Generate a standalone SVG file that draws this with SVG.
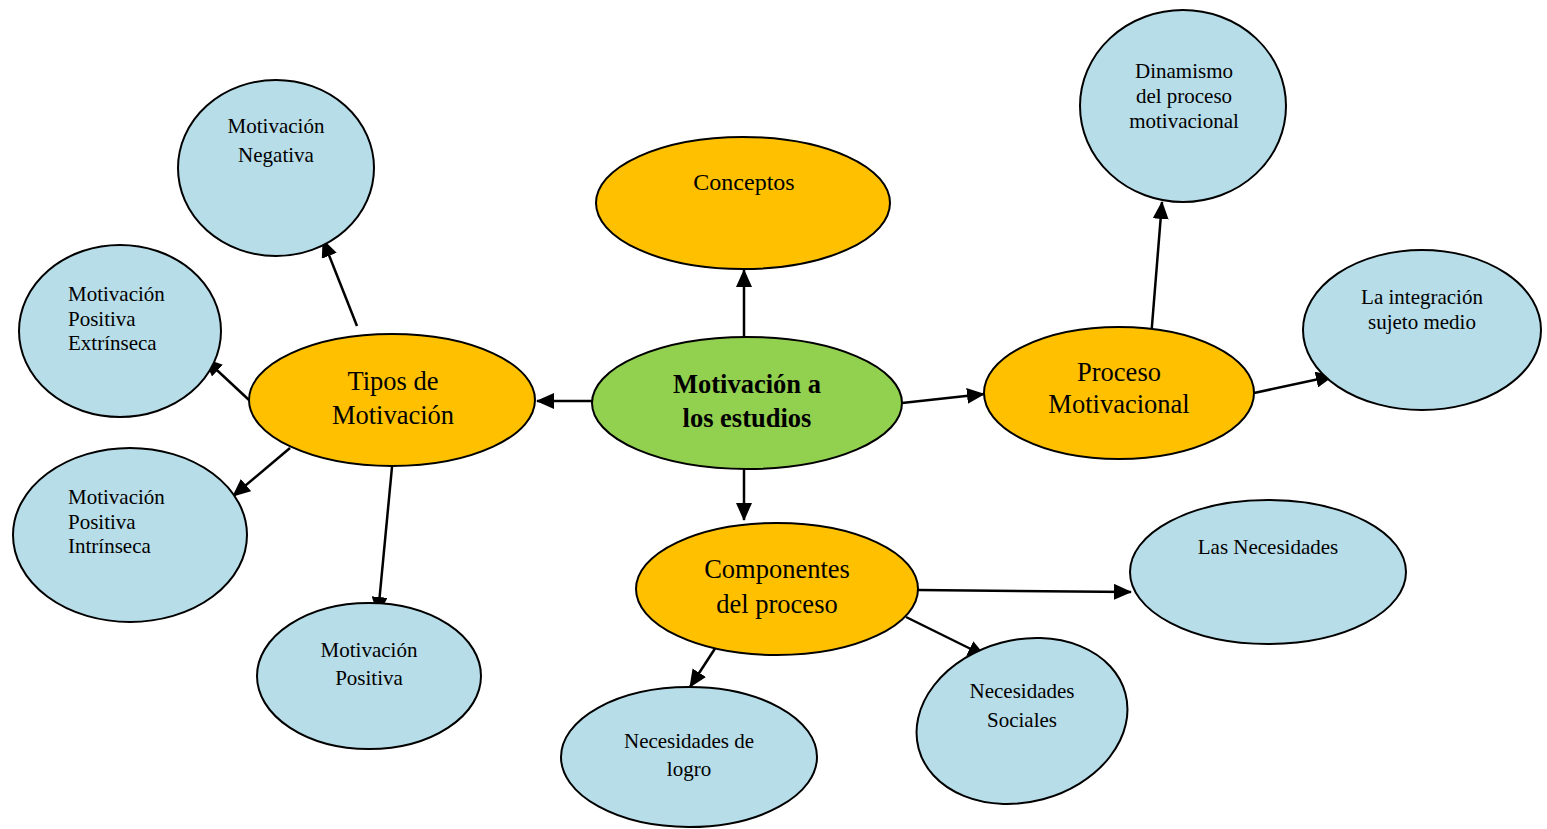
<svg xmlns="http://www.w3.org/2000/svg" width="1547" height="829" viewBox="0 0 1547 829">
<style>
.blue{fill:#B7DDE8;stroke:#000;stroke-width:2}
.orange{fill:#FFC000;stroke:#000;stroke-width:2}
.green{fill:#92D050;stroke:#000;stroke-width:2}
.t{font-family:"Liberation Serif","Times New Roman",serif;fill:#000}
.s{font-size:21px}
.m{font-size:26.5px}
.b{font-size:26.5px;font-weight:bold}
.c{text-anchor:middle}
.edge{stroke:#000;stroke-width:2.5;fill:none;marker-end:url(#ah)}
</style>
<defs>
<marker id="ah" markerUnits="userSpaceOnUse" markerWidth="18" markerHeight="16" refX="17" refY="8" orient="auto">
<path d="M0,0 L18,8 L0,16 Z" fill="#000"/>
</marker>
</defs>
<rect width="1547" height="829" fill="#fff"/>
<g id="connectors">
<line class="edge" x1="744" y1="337" x2="744" y2="270"/>
<line class="edge" x1="592" y1="401" x2="537" y2="401"/>
<line class="edge" x1="902" y1="403" x2="984" y2="394"/>
<line class="edge" x1="744" y1="469" x2="744" y2="520"/>
<line class="edge" x1="357" y1="326" x2="323" y2="240"/>
<line class="edge" x1="249" y1="400" x2="205" y2="359"/>
<line class="edge" x1="290" y1="448" x2="233" y2="496"/>
<line class="edge" x1="392" y1="467" x2="378" y2="614"/>
<line class="edge" x1="1151" y1="338" x2="1162" y2="202"/>
<line class="edge" x1="1254" y1="393" x2="1333" y2="376"/>
<line class="edge" x1="918" y1="590" x2="1131" y2="592"/>
<line class="edge" x1="906" y1="617" x2="985" y2="656"/>
<line class="edge" x1="716" y1="647" x2="690" y2="687"/>
</g>
<g id="n-center">
<ellipse class="green" cx="747" cy="403" rx="155" ry="66"/>
<text class="t b c" x="747" y="393">Motivación a</text>
<text class="t b c" x="747" y="427">los estudios</text>
</g>
<g id="n-conceptos">
<ellipse class="orange" cx="743" cy="203" rx="147" ry="66"/>
<text class="t c" style="font-size:24px" x="744" y="190">Conceptos</text>
</g>
<g id="n-tipos">
<ellipse class="orange" cx="392" cy="400" rx="143" ry="66"/>
<text class="t m c" x="393" y="390">Tipos de</text>
<text class="t m c" x="393" y="424">Motivación</text>
</g>
<g id="n-proceso">
<ellipse class="orange" cx="1119" cy="393" rx="135" ry="66"/>
<text class="t m c" x="1119" y="381">Proceso</text>
<text class="t m c" x="1119" y="413">Motivacional</text>
</g>
<g id="n-componentes">
<ellipse class="orange" cx="777" cy="589" rx="141" ry="66"/>
<text class="t m c" x="777" y="578">Componentes</text>
<text class="t m c" x="777" y="613">del proceso</text>
</g>
<g id="n-negativa">
<ellipse class="blue" cx="276" cy="168" rx="98" ry="88"/>
<text class="t s c" x="276" y="133">Motivación</text>
<text class="t s c" x="276" y="162">Negativa</text>
</g>
<g id="n-extrinseca">
<ellipse class="blue" cx="120" cy="331" rx="101" ry="86"/>
<text class="t s" x="68" y="301">Motivación</text>
<text class="t s" x="68" y="326">Positiva</text>
<text class="t s" x="68" y="350">Extrínseca</text>
</g>
<g id="n-intrinseca">
<ellipse class="blue" cx="130" cy="535" rx="117" ry="87"/>
<text class="t s" x="68" y="504">Motivación</text>
<text class="t s" x="68" y="529">Positiva</text>
<text class="t s" x="68" y="553">Intrínseca</text>
</g>
<g id="n-positiva">
<ellipse class="blue" cx="369" cy="676" rx="112" ry="73"/>
<text class="t s c" x="369" y="657">Motivación</text>
<text class="t s c" x="369" y="685">Positiva</text>
</g>
<g id="n-dinamismo">
<ellipse class="blue" cx="1183" cy="106" rx="103" ry="96"/>
<text class="t s c" x="1184" y="78">Dinamismo</text>
<text class="t s c" x="1184" y="103">del proceso</text>
<text class="t s c" x="1184" y="128">motivacional</text>
</g>
<g id="n-integracion">
<ellipse class="blue" cx="1422" cy="330" rx="119" ry="80"/>
<text class="t s c" x="1422" y="304">La integración</text>
<text class="t s c" x="1422" y="329">sujeto medio</text>
</g>
<g id="n-necesidades">
<ellipse class="blue" cx="1268" cy="572" rx="138" ry="72"/>
<text class="t s c" x="1268" y="554">Las Necesidades</text>
</g>
<g id="n-sociales">
<ellipse class="blue" cx="1022" cy="721" rx="107" ry="81" transform="rotate(-15 1022 721)"/>
<text class="t s c" x="1022" y="698">Necesidades</text>
<text class="t s c" x="1022" y="727">Sociales</text>
</g>
<g id="n-logro">
<ellipse class="blue" cx="689" cy="757" rx="128" ry="70"/>
<text class="t s c" x="689" y="748">Necesidades de</text>
<text class="t s c" x="689" y="776">logro</text>
</g>
</svg>
